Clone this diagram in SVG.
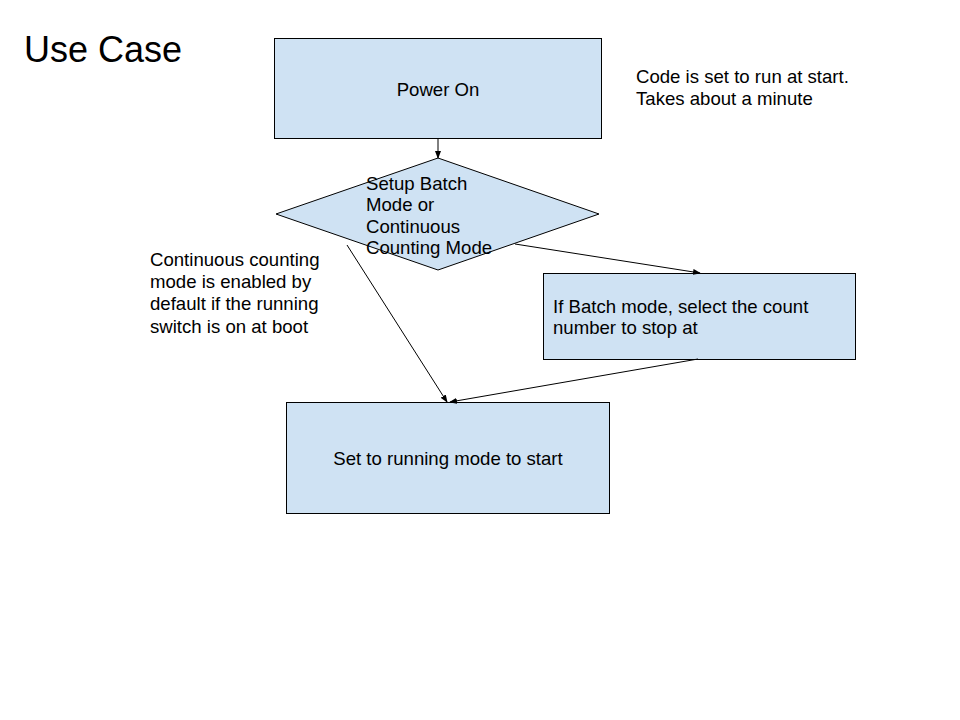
<svg xmlns="http://www.w3.org/2000/svg" width="960" height="720" viewBox="0 0 960 720">
<style>
.box{fill:#cfe2f3;stroke:#000;stroke-width:1}
.t{font-family:"Liberation Sans",Arial,sans-serif;font-size:18.6px;fill:#000}
.c{fill:none;stroke:#000;stroke-width:1}
</style>
<defs>
<marker id="ah" markerWidth="8" markerHeight="6" refX="7" refY="3" orient="auto" markerUnits="userSpaceOnUse">
<path d="M0,0 L8,3 L0,6 z" fill="#000"/>
</marker>
</defs>
<rect width="960" height="720" fill="#fff"/>
<text x="24" y="62" font-family="Liberation Sans,Arial,sans-serif" font-size="36" fill="#000">Use Case</text>
<g id="power-on">
<rect class="box" x="274.5" y="38.5" width="327" height="100"/>
<text class="t" x="438" y="96" text-anchor="middle">Power On</text>
</g>
<g id="setup">
<polygon class="box" points="438,158 599,214 438,270 276,214"/>
<text class="t"><tspan x="366" y="190">Setup Batch</tspan><tspan x="366" y="211">Mode or</tspan><tspan x="366" y="233">Continuous</tspan><tspan x="366" y="254">Counting Mode</tspan></text>
</g>
<g id="batch">
<rect class="box" x="543.5" y="273.5" width="312" height="86"/>
<text class="t"><tspan x="553" y="313">If Batch mode, select the count</tspan><tspan x="553" y="334">number to stop at</tspan></text>
</g>
<g id="running">
<rect class="box" x="286.5" y="402.5" width="323" height="111"/>
<text class="t" x="448" y="465" text-anchor="middle">Set to running mode to start</text>
</g>
<g id="notes">
<text class="t"><tspan x="636" y="83">Code is set to run at start.</tspan><tspan x="636" y="105">Takes about a minute</tspan></text>
<text class="t"><tspan x="150" y="266">Continuous counting</tspan><tspan x="150" y="288">mode is enabled by</tspan><tspan x="150" y="310">default if the running</tspan><tspan x="150" y="333">switch is on at boot</tspan></text>
</g>
<g id="connectors">
<line class="c" x1="438" y1="139" x2="438" y2="158" marker-end="url(#ah)"/>
<line class="c" x1="515" y1="244" x2="700" y2="273" marker-end="url(#ah)"/>
<line class="c" x1="347" y1="245" x2="447" y2="402" marker-end="url(#ah)"/>
<line class="c" x1="698" y1="359" x2="450" y2="402" marker-end="url(#ah)"/>
</g>
</svg>
